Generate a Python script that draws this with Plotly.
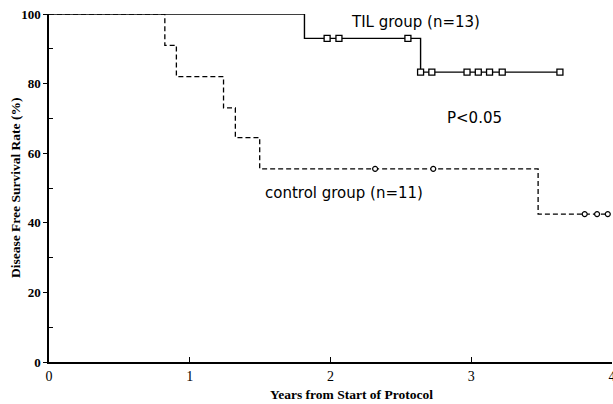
import plotly.graph_objects as go

# TIL group step curve (years, % disease free)
til_x = [0, 1.815, 2.64, 3.63]
til_y = [100, 93.0, 83.3, 83.3]
til_censor_x = [1.976, 2.06, 2.55, 2.64, 2.72, 2.97, 3.05, 3.13, 3.22, 3.63]
til_censor_y = [93.0, 93.0, 93.0, 83.3, 83.3, 83.3, 83.3, 83.3, 83.3, 83.3]

# Control group step curve
ctl_x = [0, 0.823, 0.905, 1.24, 1.324, 1.497, 3.475, 3.97]
ctl_y = [100, 91.0, 82.0, 73.0, 64.5, 55.5, 42.5, 42.5]
ctl_censor_x = [2.317, 2.73, 3.806, 3.894, 3.97]
ctl_censor_y = [55.5, 55.5, 42.5, 42.5, 42.5]

x_ticks = [0, 1, 2, 3, 4]
y_ticks = [0, 20, 40, 60, 80, 100]

fig = go.Figure()
fig.add_trace(go.Scatter(x=ctl_x, y=ctl_y, mode="lines", line_shape="hv",
                         line=dict(color="black", width=1.3, dash="5px,3px"),
                         cliponaxis=False, showlegend=False))
fig.add_trace(go.Scatter(x=ctl_censor_x, y=ctl_censor_y, mode="markers",
                         marker=dict(symbol="circle", size=5, color="white",
                                     line=dict(color="black", width=1.2)),
                         cliponaxis=False, showlegend=False))
fig.add_trace(go.Scatter(x=til_x, y=til_y, mode="lines", line_shape="hv",
                         line=dict(color="black", width=1.4),
                         cliponaxis=False, showlegend=False))
fig.add_trace(go.Scatter(x=til_censor_x, y=til_censor_y, mode="markers",
                         marker=dict(symbol="square", size=6, color="white",
                                     line=dict(color="black", width=1.3)),
                         cliponaxis=False, showlegend=False))

ann_font = dict(family="DejaVu Sans", size=15, color="black")
fig.add_annotation(x=2.604, y=97.7, text="TIL group (n=13)", showarrow=False, font=ann_font)
fig.add_annotation(x=3.02, y=70.1, text="P<0.05", showarrow=False, font=ann_font)
fig.add_annotation(x=2.096, y=48.6, text="control group (n=11)", showarrow=False, font=ann_font)

title_font = dict(family="Liberation Serif", size=13.5, color="black")
fig.add_annotation(xref="paper", yref="paper", x=0.537, y=0, yshift=-32,
                   text="<b>Years from Start of Protocol</b>", showarrow=False,
                   font=title_font, xanchor="center", yanchor="middle")
fig.add_annotation(xref="paper", yref="paper", x=0, y=0.5, xshift=-34,
                   text="<b>Disease Free Survival Rate (%)</b>", showarrow=False,
                   textangle=-90, font=title_font, xanchor="center", yanchor="middle")

fig.update_layout(
    width=613, height=404,
    margin=dict(l=49, r=1, t=14, b=42),
    plot_bgcolor="white", paper_bgcolor="white",
    font=dict(family="Liberation Serif", color="black"),
    xaxis=dict(range=[0, 4], tickvals=x_ticks, ticktext=[str(v) for v in x_ticks],
               automargin=False, ticklabeloverflow="allow",
               showgrid=False, zeroline=False, showline=True, linecolor="black",
               linewidth=1.5, ticks="inside", ticklen=5, tickcolor="black",
               tickfont=dict(family="Liberation Serif", size=14)),
    yaxis=dict(range=[0, 100], tickvals=y_ticks, ticktext=[str(v) for v in y_ticks],
               automargin=False,
               showgrid=False, zeroline=False, showline=True, linecolor="black",
               linewidth=1.5, ticks="outside", ticklen=4, tickcolor="black",
               tickfont=dict(family="Liberation Serif", size=13, weight="bold"),
               minor=dict(tickvals=[10, 30, 50, 70, 90], ticks="inside", ticklen=4,
                          tickcolor="black")),
)

fig.write_html("out.html", config={"displayModeBar": False},
               post_script="document.body.style.margin='0';document.body.style.overflow='hidden';")
